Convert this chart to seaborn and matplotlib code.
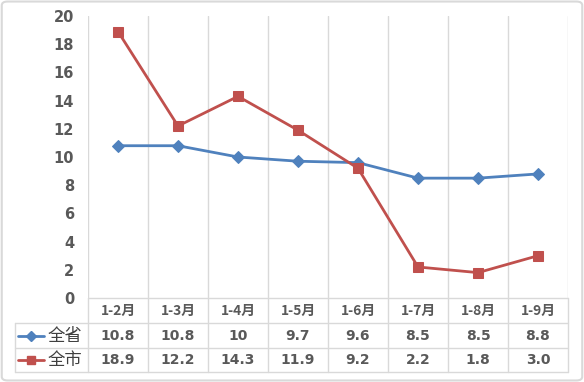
import pandas as pd
import seaborn as sns
import matplotlib.pyplot as plt
from matplotlib.lines import Line2D
from matplotlib.patches import FancyBboxPatch

# datos
periodos = ['1-2月', '1-3月', '1-4月', '1-5月', '1-6月', '1-7月', '1-8月', '1-9月']
quan_sheng = [10.8, 10.8, 10, 9.7, 9.6, 8.5, 8.5, 8.8]
quan_shi = [18.9, 12.2, 14.3, 11.9, 9.2, 2.2, 1.8, 3.0]
etiquetas_sheng = ['10.8', '10.8', '10', '9.7', '9.6', '8.5', '8.5', '8.8']
etiquetas_shi = ['18.9', '12.2', '14.3', '11.9', '9.2', '2.2', '1.8', '3.0']

df = pd.DataFrame({'pos': range(len(periodos)), '全省': quan_sheng, '全市': quan_shi})

sns.set_style('white')
plt.rcParams['font.family'] = ['Noto Sans CJK SC', 'DejaVu Sans']

W, H = 584, 382
fig = plt.figure(figsize=(W / 100, H / 100), dpi=100)
ax = fig.add_axes([88 / W, 1 - 298 / H, 480 / W, 282 / H])

azul = '#4F81BD'
rojo = '#C0504D'
gris = '#D9D9D9'
texto = '#595959'

sns.lineplot(data=df, x='pos', y='全省', ax=ax, color=azul, marker='D',
             markersize=6, markeredgecolor=azul, linewidth=2)
sns.lineplot(data=df, x='pos', y='全市', ax=ax, color=rojo, marker='s',
             markersize=7, markeredgecolor=rojo, linewidth=2)

n = len(periodos)
ax.set_xlim(-0.5, n - 0.5)
ax.set_ylim(0, 20)
ax.set_yticks(range(0, 21, 2))
ax.set_yticklabels([str(v) for v in range(0, 21, 2)], fontsize=10.5,
                   fontweight='bold', color=texto, family='DejaVu Sans')
ax.tick_params(axis='y', length=0, pad=10)
ax.set_xticks([])
ax.set_xlabel('')
ax.set_ylabel('')
for s in ax.spines.values():
    s.set_visible(False)
for b in range(n + 1):
    ax.axvline(b - 0.5, color=gris, linewidth=1, zorder=0)


def fx(px):
    return px / W


def fy(py):
    return 1 - py / H


def linea(x0, y0, x1, y1):
    fig.add_artist(Line2D([fx(x0), fx(x1)], [fy(y0), fy(y1)],
                          color=gris, linewidth=1))


# tabla de datos
linea(88, 298, 568, 298)
for y in (323, 348, 372):
    linea(15, y, 568, y)
linea(15, 323, 15, 372)
for i in range(n + 1):
    x = 88 + 60 * i
    linea(x, 298, x, 372)

for i in range(n):
    cx = 118 + 60 * i
    fig.text(fx(cx), fy(311), periodos[i], ha='center', va='center',
             fontsize=10, fontweight='bold', color=texto)
    fig.text(fx(cx), fy(336), etiquetas_sheng[i], ha='center', va='center',
             fontsize=10, fontweight='bold', color=texto, family='DejaVu Sans')
    fig.text(fx(cx), fy(360), etiquetas_shi[i], ha='center', va='center',
             fontsize=10, fontweight='bold', color=texto, family='DejaVu Sans')

# leyenda dentro de la tabla
fig.add_artist(Line2D([fx(18), fx(31), fx(44)], [fy(336)] * 3, color=azul,
                      linewidth=2, marker='D', markersize=5, markevery=[1],
                      markeredgecolor=azul))
fig.add_artist(Line2D([fx(18), fx(31), fx(44)], [fy(360)] * 3, color=rojo,
                      linewidth=2, marker='s', markersize=6, markevery=[1],
                      markeredgecolor=rojo))
fig.text(fx(48), fy(336), '全省', ha='left', va='center', fontsize=12.5, color='#404040')
fig.text(fx(48), fy(360), '全市', ha='left', va='center', fontsize=12.5, color='#404040')

# borde exterior
fig.add_artist(FancyBboxPatch((0.003, 0.004), 0.994, 0.992,
                              boxstyle='round,pad=0,rounding_size=0.01',
                              transform=fig.transFigure, fill=False,
                              edgecolor=gris, linewidth=1.5))

fig.savefig('out.png', dpi=100)
